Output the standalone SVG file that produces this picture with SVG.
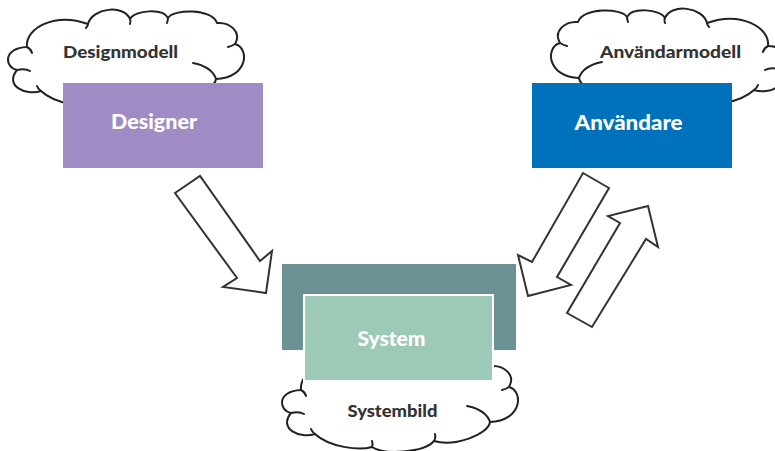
<svg xmlns="http://www.w3.org/2000/svg" xmlns:xlink="http://www.w3.org/1999/xlink" width="775" height="451" viewBox="0 0 775 451">
<style>
.cloud-body{fill:#ffffff;stroke:#222222;stroke-width:2;stroke-linejoin:round}
.cloud-hook{fill:none;stroke:#222222;stroke-width:2;stroke-linecap:round}
.arrow{fill:#ffffff;stroke:#333333;stroke-width:2;stroke-linejoin:miter}
.lbl{font-family:"Lato","Noto Sans","DejaVu Sans",sans-serif;font-weight:900;text-anchor:middle}
.dark{fill:#333333;font-size:16px}
.light{fill:#ffffff;font-size:20px}
</style>
<defs>
<g id="cloud">
<path class="cloud-body" d="M17,70 C5,68 2,48 27,47 C25,28 55,12 88,24 C92,8 124,4 130,19 C135,10 163,8 168,18 C173,9 212,8 217,23 C230,22 242,32 235,44 C250,48 248,78 216,79 C214,92 180,104 160,98 C150,110 110,112 98,104 C85,108 55,104 41,91 C26,96 4,86 17,70 Z"/>
<path class="cloud-hook" d="M17,70 Q25,68 30,71 M27,47 Q31,49 32,53 M88,24 Q88,26 86,28 M130,19 Q131,21 130,24 M168,18 Q168,20 167,23 M235,44 Q232,46 228,47 M193,63 C203,65 213,70 216,79 M41,91 Q38,89 37,86 M98,104 Q99,101 98,98 M160,98 Q162,95 161,91"/>
</g>
</defs>
<rect width="775" height="451" fill="#ffffff"/>
<g id="designmodell">
<use xlink:href="#cloud"/>
<text class="lbl dark" x="120.5" y="57.5" textLength="115" lengthAdjust="spacingAndGlyphs">Designmodell</text>
</g>
<g id="anvandarmodell">
<use xlink:href="#cloud" transform="translate(795,-1) scale(-1,1)"/>
<text class="lbl dark" x="670.5" y="57.5" textLength="141" lengthAdjust="spacingAndGlyphs">Användarmodell</text>
</g>
<g id="systembild">
<use xlink:href="#cloud" transform="translate(274,343)"/>
<text class="lbl dark" x="392.5" y="416.5" textLength="90" lengthAdjust="spacingAndGlyphs">Systembild</text>
</g>
<g id="designer">
<rect x="63" y="83" width="200" height="85" fill="#A08CC4"/>
<text class="lbl light" x="154" y="128.5" textLength="86" lengthAdjust="spacingAndGlyphs">Designer</text>
</g>
<g id="anvandare">
<rect x="532" y="83" width="200" height="85" fill="#0072BB"/>
<text class="lbl light" x="628.5" y="129.5" textLength="108" lengthAdjust="spacingAndGlyphs">Användare</text>
</g>
<g id="system">
<rect x="282" y="264" width="234" height="86" fill="#6B9195"/>
<rect x="304" y="295" width="189" height="86" fill="#9DCAB6" stroke="#ffffff" stroke-width="2"/>
<text class="lbl light" x="391.5" y="345.5" textLength="68" lengthAdjust="spacingAndGlyphs">System</text>
</g>
<g id="connectors">
<polygon class="arrow" points="175,193 200,176 260,261 272,251 266,293 223,287 237,278"/>
<polygon class="arrow" points="583,173 609,188 557,277 571,285 528,296 518,255 532,262"/>
<polygon class="arrow" points="567,313 592,327 646,239 658,247 648,206 608,216 620,223"/>
</g>
</svg>
